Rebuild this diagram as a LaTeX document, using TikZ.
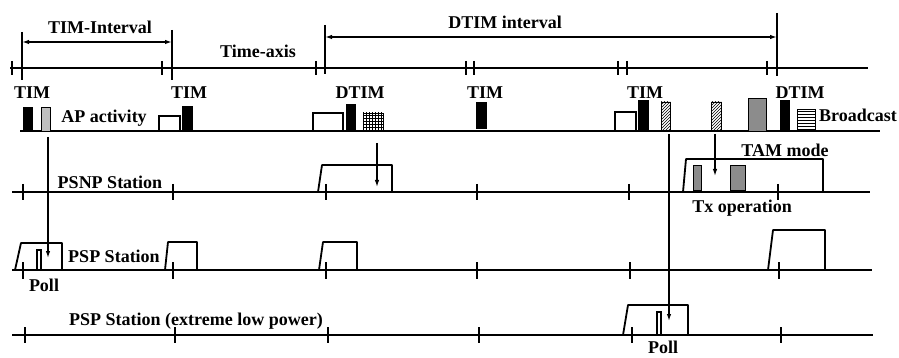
\documentclass[tikz,border=0pt]{standalone}
\usepackage{fontspec}
\setmainfont{Liberation Serif}
\usetikzlibrary{arrows.meta,patterns}
\begin{document}
\begin{tikzpicture}[x=1pt,y=-1pt,>={Latex[length=7pt,width=4.5pt]}]
\tikzset{axisline/.style={line width=2.4pt}, tickmark/.style={line width=1.5pt}, lbl/.style={font=\bfseries\fontsize{18}{20}\selectfont,inner sep=0pt}, wakebox/.style={line width=1.8pt,line join=round}, darkbar/.style={fill=black,draw=black,line width=.8pt}, hatchbar/.style={draw=black,line width=.8pt,pattern=north east lines}, greybar/.style={draw=black,line width=.8pt,fill=black!45}, emptybar/.style={draw=black,line width=1.2pt}, arr/.style={->,line width=1.3pt}}
\useasboundingbox (0,0) rectangle (899,358);
% time axis
\draw[axisline] (10,68) -- (868,68);
\foreach \x in {12,162,316,466,474,618,627,767} \draw[tickmark] (\x,61) -- (\x,75);
\draw[tickmark] (22,32) -- (22,80);
\draw[tickmark] (172,30) -- (172,80);
\draw[tickmark] (325,25) -- (325,74);
\draw[tickmark] (777,13) -- (777,76);
\coordinate (timA) at (22,42);
\coordinate (timB) at (172,42);
\coordinate (dtimA) at (325,37);
\coordinate (dtimB) at (777,37);
\draw[<->,line width=1.4pt] (timA) -- (timB);
\draw[<->,line width=1.4pt] (dtimA) -- (dtimB);
\node[lbl] (timint) at (100,27) {TIM-Interval};
\node[lbl] (dtimint) at (505,22) {DTIM interval};
\node[lbl] (taxis) at (258,51) {Time-axis};
\node[lbl] (tim1) at (32,93) {TIM};
\node[lbl] (tim2) at (189,93) {TIM};
\node[lbl] (dtim1) at (360,93) {DTIM};
\node[lbl] (tim3) at (485,93) {TIM};
\node[lbl] (tim4) at (645,93) {TIM};
\node[lbl] (dtim2) at (800,93) {DTIM};
% AP activity
\draw[axisline] (20,131) -- (880,131);
\draw[darkbar] (23,107) rectangle (32,131);
\draw[greybar,fill=black!25] (41,107) rectangle (50,131);
\draw[emptybar] (159,116) rectangle (180,131);
\draw[darkbar] (182,106) rectangle (192,131);
\draw[emptybar] (313,113) rectangle (343,131);
\draw[darkbar] (346,104) rectangle (355,131);
\draw[draw=black,line width=.8pt,pattern=grid] (363,113) rectangle (383,131);
\draw[darkbar] (476,102) rectangle (486,128);
\draw[emptybar] (615,112) rectangle (636,131);
\draw[darkbar] (638,100) rectangle (648,131);
\draw[hatchbar] (661,102) rectangle (670,131);
\draw[hatchbar] (711,102) rectangle (721,131);
\draw[greybar] (748,98) rectangle (766,131);
\draw[darkbar] (780,100) rectangle (789,131);
\draw[draw=black,line width=.8pt,pattern=horizontal lines] (797,109) rectangle (815,131);
\node[lbl] (apact) at (104,118) {AP activity};
\node[lbl,anchor=west] (bcast) at (819,115) {Broadcast};
% PSNP station
\draw[axisline] (12,192) -- (870,192);
\foreach \x in {23,173,326,477,629,778} \draw[tickmark] (\x,184) -- (\x,200);
\draw[wakebox] (318,192) -- (322,165) -- (392,165) -- (392,192);
\draw[wakebox] (683,192) -- (686,159) -- (823,159) -- (823,192);
\draw[greybar] (693,165) rectangle (701,190);
\draw[greybar] (730,165) rectangle (745,190);
\node[lbl] (psnp) at (110,182) {PSNP Station};
\node[lbl] (tam) at (785,150) {TAM mode};
\node[lbl] (txop) at (742,208) {Tx operation};
% PSP station
\draw[axisline] (12,270) -- (872,270);
\foreach \x in {23,173,326,477,630,779} \draw[tickmark] (\x,262) -- (\x,279);
\draw[wakebox] (15,270) -- (21,243) -- (62,243) -- (62,270);
\draw[wakebox] (165,270) -- (168,242) -- (197,242) -- (197,270);
\draw[wakebox] (319,270) -- (323,242) -- (357,242) -- (357,270);
\draw[wakebox] (768,270) -- (773,230) -- (825,230) -- (825,270);
\draw[emptybar] (37,250) rectangle (41,270);
\node[lbl] (psp) at (114,256) {PSP Station};
\node[lbl] (poll1) at (44,285) {Poll};
% PSP station, extreme low power
\draw[axisline] (12,335) -- (873,335);
\foreach \x in {25,175,328,479,632,781} \draw[tickmark] (\x,327) -- (\x,343);
\draw[wakebox] (623,335) -- (628,305) -- (688,305) -- (688,335);
\draw[emptybar] (657,312) rectangle (661,335);
\node[lbl] (pspx) at (196,321) {PSP Station (extreme low power)};
\node[lbl,anchor=base] (poll2) at (663,353) {Poll};
% beacon arrows
\coordinate (pollA) at (48,137);
\coordinate (pollAend) at (48,258);
\coordinate (psnpA) at (377,143);
\coordinate (psnpAend) at (377,187);
\coordinate (tamA) at (715,134);
\coordinate (tamAend) at (715,176);
\coordinate (pollB) at (669,134);
\coordinate (pollBend) at (669,321);
\draw[arr] (pollA) -- (pollAend);
\draw[arr] (psnpA) -- (psnpAend);
\draw[arr] (tamA) -- (tamAend);
\draw[arr] (pollB) -- (pollBend);
\end{tikzpicture}
\end{document}
